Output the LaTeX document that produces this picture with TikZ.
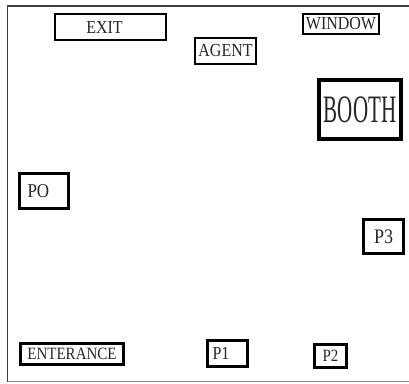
\documentclass[tikz,border=0pt]{standalone}
\usepackage{fontspec}
\setmainfont{Liberation Serif}
\usepackage{graphicx}
\newcommand{\tallt}[1]{\scalebox{1}[1.15]{#1}}
\begin{document}
\begin{tikzpicture}[x=1pt,y=1pt,
  room/.style={draw=black!75, line width=1.6pt},
  box/.style={draw=black, rectangle, inner sep=0pt, font=\fontsize{15}{15}\selectfont, text=black!85},
  thin box/.style={box, line width=1.5pt},
  mid box/.style={box, line width=2.5pt},
  thick box/.style={box, line width=3.2pt}]
\useasboundingbox (0,0) rectangle (409,383);
\fill[white] (0,0) rectangle (409,383);
% room outline (open on the right)
\draw[room] (409,377) -- (7.5,377) -- (7.5,1.5);
\draw[draw=black!45, line width=1pt] (7.5,1.5) -- (409,1.5);
% elements
\node[thin box, minimum height=26pt, inner xsep=0pt, text width=111pt, align=center, font=\fontsize{16}{16}\selectfont] (exit) at (110.5,356) {\tallt{EXIT}\hspace*{12pt}};
\node[mid box, minimum width=61pt, minimum height=26pt, font=\fontsize{16}{16}\selectfont] (agent) at (225.5,332) {\tallt{AGENT}};
\node[thin box, line width=1.8pt, minimum width=76pt, minimum height=20pt, font=\fontsize{16}{16}\selectfont] (window) at (341,359) {\tallt{WINDOW}};
\node[box, line width=3.8pt, minimum width=82pt, minimum height=59pt] (booth) at (360,273.5) {\scalebox{1}[1.85]{\fontsize{21}{21}\selectfont BOOTH}};
\draw[line width=3pt] (booth.north west) ++(0,-2) -- ([yshift=-2pt]booth.north east);
\node[thick box, minimum height=35pt, inner xsep=8pt, text width=33pt, align=left, font=\fontsize{17}{17}\selectfont] (po) at (44,192) {\tallt{PO}};
\node[thick box, line width=3pt, minimum width=40pt, minimum height=34pt, font=\fontsize{18}{18}\selectfont] (p3) at (383.5,146.5) {\tallt{P3}};
\node[thick box, line width=3pt, minimum width=103pt, minimum height=21pt, font=\fontsize{15}{15}\selectfont] (ent) at (72,29) {\tallt{ENTERANCE}};
\node[mid box, line width=2.8pt, minimum height=26pt, inner xsep=5pt, text width=30pt, align=left, font=\fontsize{16}{16}\selectfont] (p1) at (227.5,29.5) {\tallt{P1}};
\node[thick box, line width=3pt, minimum width=32pt, minimum height=23pt, font=\fontsize{15}{15}\selectfont] (p2) at (330.5,27) {\tallt{P2}};
\end{tikzpicture}
\end{document}
